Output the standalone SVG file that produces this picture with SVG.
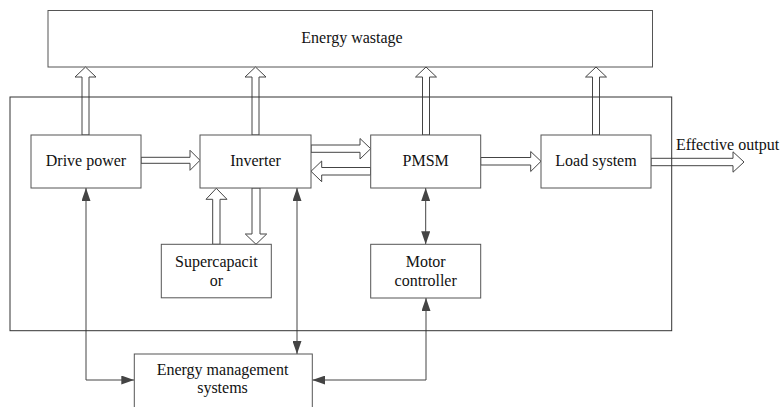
<svg xmlns="http://www.w3.org/2000/svg" width="780" height="407" viewBox="0 0 780 407">
<defs>
<style>
.box{fill:#fff;stroke:#555;stroke-width:1}
.frame{fill:none;stroke:#333;stroke-width:1}
.blk{fill:#fff;stroke:#444;stroke-width:1}
.ln{fill:none;stroke:#444;stroke-width:1}
text{font-family:"Liberation Serif","Times New Roman",serif;font-size:16px;fill:#111;text-anchor:middle}
</style>
<marker id="ah" viewBox="0 0 13 9" refX="13" refY="4.5" markerWidth="13" markerHeight="9" markerUnits="userSpaceOnUse" orient="auto-start-reverse">
<path d="M0,0 L13,4.5 L0,9 Z" fill="#444"/>
</marker>
</defs>
<rect width="780" height="407" fill="#fff"/>

<g id="energy-wastage">
<rect class="box" x="48" y="10.5" width="604.5" height="56.5"/>
<text x="352" y="43">Energy wastage</text>
</g>

<g id="connectors">
<!-- wastage arrows -->
<polygon class="blk" points="85.5,67 96,77 89,77 89,135 82,135 82,77 75,77"/>
<polygon class="blk" points="255.5,67 266,77 259,77 259,135 252,135 252,77 245,77"/>
<polygon class="blk" points="426,67 436.5,77 429.5,77 429.5,135 422.5,135 422.5,77 415.5,77"/>
<polygon class="blk" points="596,67 606.5,77 599.5,77 599.5,135 592.5,135 592.5,77 585.5,77"/>
<!-- horizontal block arrows -->
<polygon class="blk" points="141,157.3 190,157.3 190,150.3 200,160.3 190,170.3 190,163.3 141,163.3"/>
<polygon class="blk" points="311,145 360,145 360,138.5 370.7,148.7 360,159 360,152.3 311,152.3"/>
<polygon class="blk" points="370.7,167.5 321.7,167.5 321.7,161 311,171.3 321.7,181.7 321.7,175 370.7,175"/>
<polygon class="blk" points="480.7,157.5 530.7,157.5 530.7,151.5 541,161.3 530.7,171.5 530.7,165 480.7,165"/>
<polygon class="blk" points="651,158.3 733,158.3 733,151.8 744,162 733,172.2 733,165.7 651,165.7"/>
<!-- supercapacitor arrows -->
<polygon class="blk" points="216.3,188.3 227,199.3 220,199.3 220,244.3 212.7,244.3 212.7,199.3 206,199.3"/>
<polygon class="blk" points="256,244.3 266.7,234 260,234 260,188 252,188 252,234 245.3,234"/>
<!-- control lines -->
<polyline class="ln" points="86,188 86,380 134.3,380" marker-start="url(#ah)" marker-end="url(#ah)"/>
<line class="ln" x1="297" y1="188" x2="297" y2="354" marker-start="url(#ah)" marker-end="url(#ah)"/>
<line class="ln" x1="425.7" y1="188" x2="425.7" y2="244.3" marker-start="url(#ah)" marker-end="url(#ah)"/>
<polyline class="ln" points="426,298 426,380 312.3,380" marker-start="url(#ah)" marker-end="url(#ah)"/>
</g>

<g id="drive-power">
<rect class="box" x="31" y="135" width="110" height="53"/>
<text x="86" y="166">Drive power</text>
</g>
<g id="inverter">
<rect class="box" x="200" y="135" width="111" height="53"/>
<text x="255.5" y="166">Inverter</text>
</g>
<g id="pmsm">
<rect class="box" x="370.7" y="135" width="110" height="53"/>
<text x="425.7" y="166">PMSM</text>
</g>
<g id="load-system">
<rect class="box" x="541" y="135" width="110" height="53"/>
<text x="596" y="166">Load system</text>
</g>
<g id="supercapacitor">
<rect class="box" x="161.3" y="244.3" width="110" height="53.5"/>
<text x="216.3" y="267.3">Supercapacit</text>
<text x="216.3" y="285.5">or</text>
</g>
<g id="motor-controller">
<rect class="box" x="370.7" y="244.3" width="110" height="53.7"/>
<text x="425.7" y="267">Motor</text>
<text x="425.7" y="285.5">controller</text>
</g>
<g id="energy-management">
<rect class="box" x="134.3" y="354" width="178" height="60"/>
<text x="222.5" y="375">Energy management</text>
<text x="222.5" y="393">systems</text>
</g>
<g id="effective-output">
<text x="727.5" y="150">Effective output</text>
</g>
<g id="system-frame">
<rect class="frame" x="10" y="97" width="661.7" height="233.7"/>
</g>
</svg>
